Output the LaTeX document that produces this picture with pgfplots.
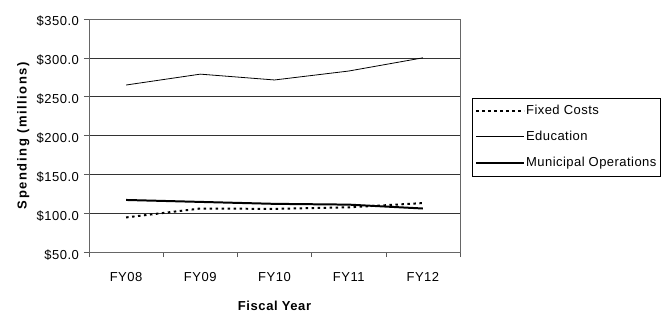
\documentclass[border=0pt]{standalone}
\usepackage{pgfplots}
\pgfplotsset{compat=1.18}
\usepackage{fontspec}
\setmainfont{Liberation Sans}
\newfontfamily\tickfont[LetterSpace=4]{Liberation Sans}
\newfontfamily\legfont[LetterSpace=3.5]{Liberation Sans}
\newfontfamily\xlabfont[LetterSpace=4.5]{Liberation Sans Bold}
\newfontfamily\ylabfont[LetterSpace=12]{Liberation Sans Bold}
\begin{document}
\begin{tikzpicture}
\useasboundingbox (0,0) rectangle (661bp,312bp);
\begin{axis}[
  at={(89bp,60bp)}, anchor=south west,
  scale only axis, width=371bp, height=233bp,
  xmin=-0.5, xmax=4.5, ymin=50, ymax=350,
  xtick={0,1,2,3,4},
  xticklabels={FY08,FY09,FY10,FY11,FY12},
  major x tick style={draw=none},
  minor xtick={-0.5,0.5,1.5,2.5,3.5,4.5},
  minor x tick style={draw=gray!70!black, line width=0.6pt},
  minor tick length=5bp,
  major tick length=5bp,
  ytick={50,100,...,350},
  y tick style={draw=gray!70!black, line width=0.6pt},
  tick align=outside,
  xtick pos=bottom, ytick pos=left,
  ymajorgrids, grid style={black!80, line width=0.6pt},
  axis line style={gray!80!black, line width=0.6pt},
  /pgf/number format/assume math mode=true,
  yticklabel={\$\pgfmathprintnumber[fixed,fixed zerofill,precision=1]{\tick}},
  tick label style={font=\fontsize{13bp}{15bp}\tickfont},
  xticklabel style={anchor=base, yshift=-24.6bp},
  yticklabel style={anchor=base east, yshift=-7bp, xshift=-1.5bp},
  xlabel={Fiscal Year},
  ylabel={Spending (millions)},
  xlabel style={font=\fontsize{13bp}{15bp}\xlabfont, at={(axis description cs:0.5,-0.252)}, anchor=base},
  ylabel style={font=\fontsize{13bp}{15bp}\ylabfont, at={(axis description cs:-0.168,0.5)}, anchor=base},
  legend style={at={(1.032,0.494)}, anchor=west, draw=black, line width=0.5pt,
    font=\fontsize{13bp}{15bp}\legfont, row sep=12bp, column sep=0bp,
    inner xsep=3bp, inner ysep=6bp,
    nodes={inner sep=1bp, text height=9.5bp, text depth=2.5bp},
    cells={anchor=west}},
  legend image code/.code={\draw[#1] (0bp,0bp) -- (48bp,0bp);},
]
\addplot[black, line width=2pt, dash pattern=on 2.5bp off 3.5bp] coordinates {(0,94.5) (1,106) (2,105.5) (3,107.5) (4,113)};
\addlegendentry{Fixed Costs}
\addplot[black, line width=0.8pt] coordinates {(0,265) (1,279) (2,271.5) (3,283) (4,300)};
\addlegendentry{Education}
\addplot[black, line width=2pt] coordinates {(0,117) (1,114.5) (2,112) (3,111) (4,106)};
\addlegendentry{Municipal Operations}
\end{axis}
\end{tikzpicture}
\end{document}
